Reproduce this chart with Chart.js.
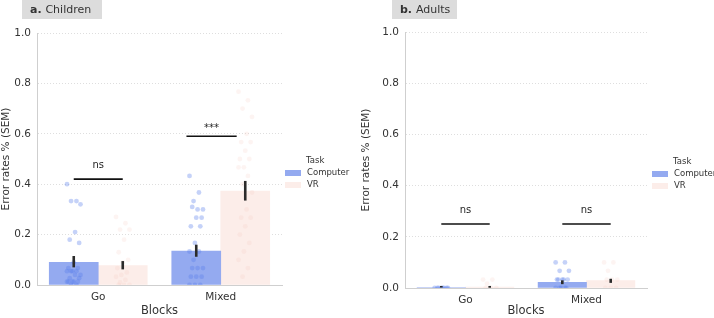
<!DOCTYPE html>
<html lang="en">
<head>
<meta charset="UTF-8">
<title>Error rates - Children / Adults</title>
<script src="https://cdn.jsdelivr.net/npm/chart.js"></script>
<style>
  body { margin: 0; background: #fff; }
  .panel { position: absolute; top: 0; height: 318px; }
</style>
</head>
<body>

<div class="panel" style="left:0;width:360px"><canvas id="chartA" width="360" height="318"></canvas></div>
<div class="panel" style="left:360px;width:354px"><canvas id="chartB" width="354" height="318"></canvas></div>

<script>
  const blocks = ['Go', 'Mixed'];
  const tasks = ['Computer', 'VR'];
  const yTicks = [0, 0.2, 0.4, 0.6, 0.8, 1.0];

  // children - bar means and SEM ranges (Go, Mixed)
  const childComputer = [0.090, 0.135];
  const childVR = [0.077, 0.373];
  const childComputerLo = [0.070, 0.112];
  const childComputerHi = [0.115, 0.160];
  const childVRLo = [0.062, 0.335];
  const childVRHi = [0.095, 0.413];

  // children - individual points
  const childGoComputerPts = [0.40, 0.333, 0.333, 0.32, 0.21, 0.18, 0.167, 0.09, 0.067, 0.067, 0.055, 0.055, 0.055, 0.055, 0.04, 0.04, 0.027, 0.027, 0.013, 0.013, 0.013, 0.013, 0.013, 0.0, 0.0];
  const childGoVRPts = [0.27, 0.245, 0.22, 0.22, 0.18, 0.13, 0.10, 0.09, 0.067, 0.05, 0.04, 0.033, 0.02, 0.01, 0.0, 0.0, 0.0];
  const childMixedComputerPts = [0.433, 0.367, 0.333, 0.30, 0.30, 0.31, 0.267, 0.267, 0.233, 0.233, 0.167, 0.133, 0.133, 0.10, 0.067, 0.067, 0.067, 0.033, 0.033, 0.033, 0.0, 0.0, 0.0];
  const childMixedVRPts = [0.767, 0.733, 0.70, 0.667, 0.60, 0.567, 0.567, 0.533, 0.50, 0.50, 0.467, 0.467, 0.433, 0.40, 0.367, 0.30, 0.267, 0.267, 0.233, 0.20, 0.167, 0.133, 0.10, 0.067, 0.033];

  // adults - bar means and SEM ranges (Go, Mixed)
  const adultComputer = [0.002, 0.022];
  const adultVR = [0.004, 0.029];
  const adultComputerLo = [0.002, 0.015];
  const adultComputerHi = [0.002, 0.030];
  const adultVRLo = [0.001, 0.020];
  const adultVRHi = [0.008, 0.036];

  // adults - individual points
  const adultGoComputerPts = [0, 0, 0, 0, 0, 0, 0, 0];
  const adultGoVRPts = [0.033, 0.033, 0.017, 0, 0, 0];
  const adultMixedComputerPts = [0.10, 0.10, 0.067, 0.067, 0.033, 0.033, 0.033, 0.033, 0.033, 0, 0, 0, 0, 0];
  const adultMixedVRPts = [0.10, 0.10, 0.067, 0.033, 0.033, 0.033, 0, 0, 0];

  // significance brackets (x range in block units)
  const childSig = [{ from: -0.2, to: 0.2, y: 0.42, text: 'ns' }, { from: 0.72, to: 1.13, y: 0.59, text: '***' }];
  const adultSig = [{ from: -0.2, to: 0.2, y: 0.25, text: 'ns' }, { from: 0.8, to: 1.2, y: 0.25, text: 'ns' }];

  const BLUE = 'rgba(148, 170, 240, 1)';
  const PINK = 'rgba(252, 237, 233, 1)';
  const BLUE_PT = 'rgba(90, 125, 235, 0.35)';
  const PINK_PT = 'rgba(245, 195, 185, 0.18)';
  const FONT = "'DejaVu Sans', sans-serif";

  // small fixed strip offset, like seaborn's jitter
  const jit = i => (((i * 7) % 11) - 5) * 0.011;

  function stripData(pts, block, side) {
    return pts.map((v, i) => ({ x: block + side * 0.2 + jit(i), y: v }));
  }
  function barData(vals, side) {
    return vals.map((v, i) => ({ x: i + side * 0.2, y: v }));
  }

  const extras = {
    id: 'extras',
    afterDatasetsDraw(chart, args, o) {
      const ctx = chart.ctx;
      const ys = chart.scales.y, xs = chart.scales.x;
      ctx.save();
      // SEM bars
      [0, 1].forEach(di => {
        const ds = chart.data.datasets[di];
        chart.getDatasetMeta(di).data.forEach((bar, i) => {
          const t = ys.getPixelForValue(ds.hi[i]);
          const b = ys.getPixelForValue(ds.lo[i]);
          ctx.strokeStyle = '#2b2b2b';
          ctx.lineWidth = 2.6;
          ctx.beginPath();
          ctx.moveTo(bar.x, Math.min(t, b - 1.5));
          ctx.lineTo(bar.x, b);
          ctx.stroke();
        });
      });
      // brackets
      o.sig.forEach(s => {
        const x1 = xs.getPixelForValue(s.from);
        const x2 = xs.getPixelForValue(s.to);
        const py = ys.getPixelForValue(s.y);
        ctx.strokeStyle = '#111';
        ctx.lineWidth = 1.6;
        ctx.beginPath();
        ctx.moveTo(x1, py);
        ctx.lineTo(x2, py);
        ctx.stroke();
        ctx.fillStyle = '#222';
        ctx.font = '10px ' + FONT;
        ctx.textAlign = 'center';
        ctx.textBaseline = 'alphabetic';
        ctx.fillText(s.text, (x1 + x2) / 2, py - (s.text === 'ns' ? 11 : 5));
      });
      ctx.restore();
    },
    afterDraw(chart, args, o) {
      const ctx = chart.ctx;
      ctx.save();
      // panel title box
      ctx.fillStyle = '#dcdcdc';
      ctx.fillRect(o.boxX, 0, o.boxW, 19);
      ctx.fillStyle = '#333';
      ctx.textBaseline = 'middle';
      ctx.textAlign = 'left';
      ctx.font = 'bold 11px ' + FONT;
      ctx.fillText(o.letter, o.boxX + 8, 10);
      const lw = ctx.measureText(o.letter + ' ').width;
      ctx.font = '11px ' + FONT;
      ctx.fillText(o.title, o.boxX + 8 + lw, 10);
      // legend
      ctx.font = '8.5px ' + FONT;
      ctx.fillStyle = '#333';
      ctx.fillText('Task', o.legX + 21, o.legY);
      [BLUE, PINK].forEach((c, i) => {
        const yy = o.legY + 12 * (i + 1);
        ctx.fillStyle = c;
        ctx.fillRect(o.legX, yy - 3, 16, 6);
        ctx.fillStyle = '#333';
        ctx.fillText(tasks[i], o.legX + 22, yy);
      });
      ctx.restore();
    }
  };

  function makePanel(id, comp, vr, cLo, cHi, vLo, vHi, pts, sig, geo) {
    const datasets = [
      { type: 'bar', label: tasks[0], data: barData(comp, -1), lo: cLo, hi: cHi, backgroundColor: BLUE, order: 2 },
      { type: 'bar', label: tasks[1], data: barData(vr, 1), lo: vLo, hi: vHi, backgroundColor: PINK, order: 2 }
    ];
    pts.forEach(([arr, block, side]) => {
      datasets.push({
        type: 'scatter', data: stripData(arr, block, side),
        backgroundColor: side < 0 ? BLUE_PT : PINK_PT, borderWidth: 0,
        pointRadius: 2.4, order: 1
      });
    });

    new Chart(document.getElementById(id), {
      type: 'bar',
      data: { datasets },
      plugins: [extras],
      options: {
        responsive: false,
        animation: false,
        layout: { padding: { left: 0, right: geo.right, top: geo.top, bottom: 0 } },
        datasets: { bar: { grouped: false, barPercentage: 1, categoryPercentage: 1 } },
        plugins: {
          legend: { display: false },
          tooltip: { enabled: false },
          extras: { sig, ...geo }
        },
        scales: {
          x: {
            type: 'linear', min: -0.5, max: 1.5, offset: false,
            afterBuildTicks: s => { s.ticks = blocks.map((b, i) => ({ value: i })); },
            grid: { display: false, drawTicks: false, offset: false },
            border: { color: '#cfcfcf' },
            ticks: { color: '#333', font: { family: FONT, size: 10.5 }, padding: 6, callback: v => blocks[v] },
            title: { display: true, text: 'Blocks', color: '#333', font: { family: FONT, size: 11.5 }, padding: { top: 0, bottom: 0 } },
            afterFit: s => { s.height = geo.xh; }
          },
          y: {
            min: 0, max: 1,
            afterBuildTicks: s => { s.ticks = yTicks.map(v => ({ value: v })); },
            grid: { color: '#dedede', drawTicks: false },
            border: { color: '#cfcfcf', dash: [1, 2] },
            ticks: { color: '#333', font: { family: FONT, size: 10.5 }, padding: 6, callback: v => v.toFixed(1) },
            title: { display: true, text: 'Error rates % (SEM)', color: '#333', font: { family: FONT, size: 10.5 }, padding: { top: 0, bottom: 0 } },
            afterFit: s => { s.width = geo.yw; }
          }
        }
      }
    });
  }

  makePanel('chartA', childComputer, childVR, childComputerLo, childComputerHi, childVRLo, childVRHi,
    [[childGoComputerPts, 0, -1], [childGoVRPts, 0, 1], [childMixedComputerPts, 1, -1], [childMixedVRPts, 1, 1]],
    childSig,
    { right: 78, top: 33, xh: 33, yw: 37, boxX: 22, boxW: 80, letter: 'a.', title: 'Children', legX: 285, legY: 161 });

  makePanel('chartB', adultComputer, adultVR, adultComputerLo, adultComputerHi, adultVRLo, adultVRHi,
    [[adultGoComputerPts, 0, -1], [adultGoVRPts, 0, 1], [adultMixedComputerPts, 1, -1], [adultMixedVRPts, 1, 1]],
    adultSig,
    { right: 67, top: 32, xh: 30, yw: 45, boxX: 32, boxW: 65, letter: 'b.', title: 'Adults', legX: 292, legY: 162 });
</script>
</body>
</html>
